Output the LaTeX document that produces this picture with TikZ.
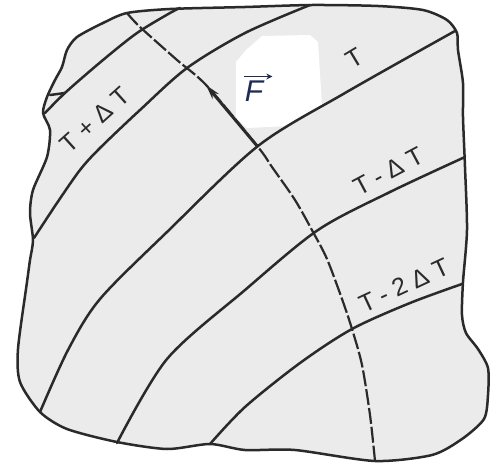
\documentclass[tikz,border=0pt]{standalone}
\usepackage{fontspec}
\usetikzlibrary{arrows.meta}
\newfontfamily\lblfont[LetterSpace=28]{Liberation Sans}
\newfontfamily\ffont{Liberation Sans}
\definecolor{ink}{HTML}{2A2A2A}
\definecolor{paper}{HTML}{EBEBEB}
\definecolor{fcol}{HTML}{1E2C55}
\tikzset{
  rim/.style={draw=ink, line width=2.5pt, fill=paper, line join=round},
  iso/.style={draw=ink, line width=2.5pt, line cap=round},
  traj/.style={draw=ink, line width=2.2pt, dash pattern=on 16pt off 3pt},
  force/.style={draw=ink, line width=3pt, -{Stealth[length=15pt,width=8pt]}},
  lbl/.style={text=ink, inner sep=0pt, font=\lblfont\fontsize{25}{25}\selectfont},
}
\begin{document}
\begin{tikzpicture}[x=1pt,y=-1pt]
\useasboundingbox (0,0) rectangle (490,463);
% body
\path[rim] plot[smooth cycle, tension=0.45] coordinates {
(127,13) (170,9) (245,7) (312,5) (378,6) (423,10) (447,20) (457,33) (458,50)
(463,83) (463,117) (465,167) (467,230) (463,282) (462,315) (466,333) (478,349)
(488,368) (488,395) (484,419) (462,439) (432,455) (375,461) (295,450) (245,450)
(210,444) (167,449) (117,442) (67,429) (40,412) (20,382) (18,349) (27,282)
(30,260) (33,240) (30,213) (33,190) (47,157) (50,130) (43,113) (47,97) (55,80)
(62,67) (67,50) (77,37) (103,23)};
% white patch behind the force label
\fill[white] (236,62) -- (246,50) -- (262,36) -- (310,35) -- (318,42) -- (322,106)
  -- (290,126) -- (247,128) -- (236,118) -- cycle;
% isotherms
\draw[iso] plot[smooth, tension=0.5] coordinates {(45,113) (66,92) (103,60) (137,33) (170,13) (180,8)};
\draw[iso] (50,95) -- (65,93);
\draw[iso] plot[smooth, tension=0.5] coordinates {(34,238) (57,203) (80,170) (100,148) (140,110) (187,68) (245,33) (310,5)};
\draw[iso] plot[smooth, tension=0.5] coordinates {(40,412) (68,350) (100,299) (167,232) (258,146) (345,93) (455,31)};
\draw[iso] plot[smooth, tension=0.5] coordinates {(117,443) (167,359) (245,290) (318,230) (390,192) (465,157)};
\draw[iso] plot[smooth, tension=0.5] coordinates {(210,444) (245,407) (300,363) (352,329) (410,303) (462,284)};
% trajectory
\draw[traj] plot[smooth, tension=0.5] coordinates {(127,13) (140,27) (177,60) (207,86) (258,147)
  (272,167) (295,200) (313,232) (327,259) (342,299) (352,329) (362,365) (370,415) (375,461)};
% force
\coordinate (P) at (258,147);
\coordinate (Q) at (206,85);
\draw[force] (P) -- (Q);
\node[text=fcol, inner sep=0pt, font=\ffont\itshape\fontsize{30}{30}\selectfont] (F) at (254,91) {F};
\draw[fcol, line width=1.8pt, -{Stealth[length=6pt,width=6pt]}] ([xshift=-1pt,yshift=4pt]F.north west) -- ([xshift=9pt,yshift=4pt]F.north east);
% labels
\node[lbl, rotate=42] (l1) at (95,120) {T+ΔT};
\node[lbl, rotate=31] (l2) at (355,58) {T};
\node[lbl, rotate=28] (l3) at (389,171) {T-ΔT};
\node[lbl, rotate=25] (l4) at (404,285) {T-2ΔT};
\end{tikzpicture}
\end{document}
